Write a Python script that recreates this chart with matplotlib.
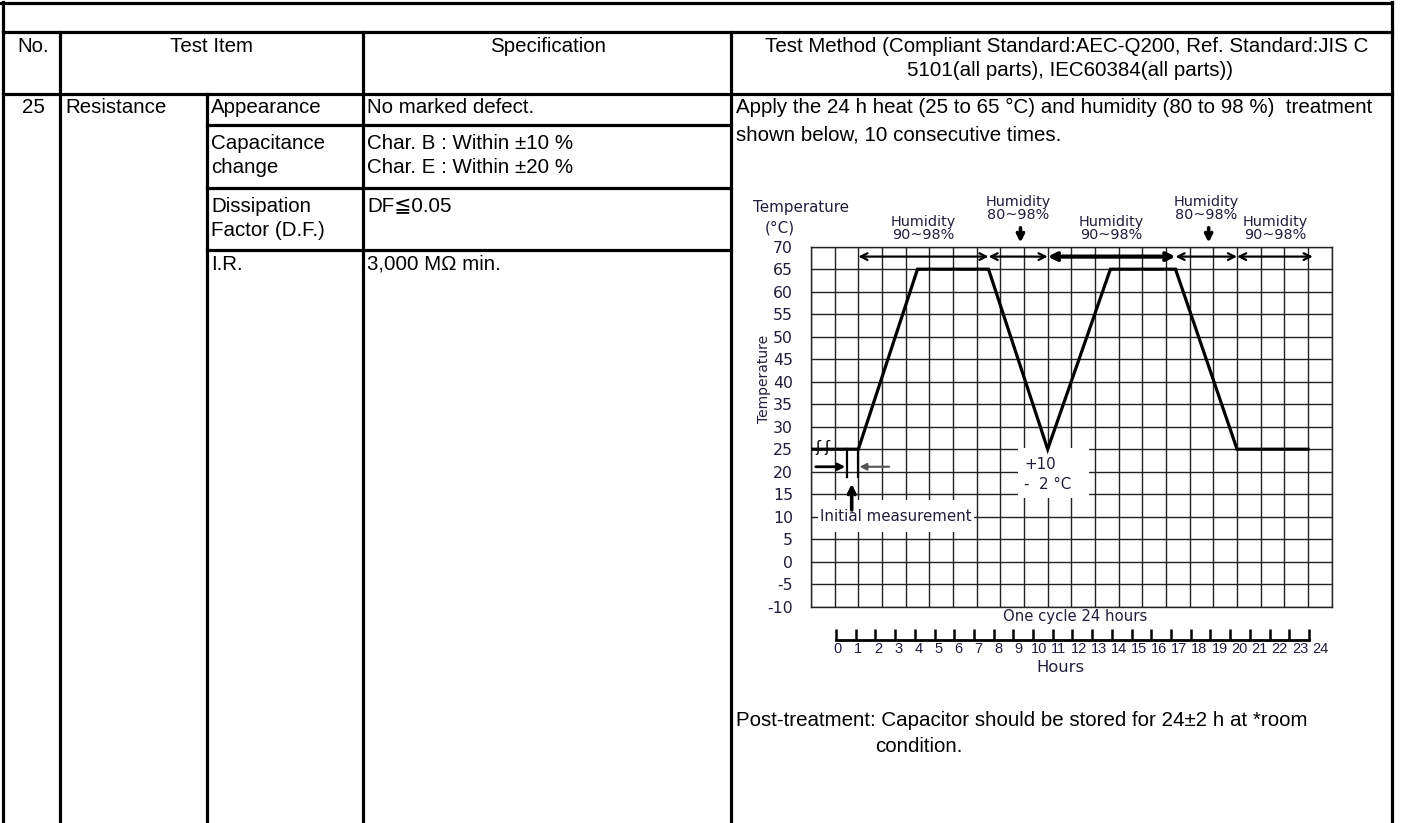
import matplotlib.pyplot as plt
from matplotlib.patches import Rectangle

# table text
header_cols = ["No.", "Test Item", "Specification"]
header_method = ["Test Method (Compliant Standard:AEC-Q200, Ref. Standard:JIS C",
                 "5101(all parts), IEC60384(all parts))"]
test_no = "25"
test_name = "Resistance"
sub_items = [["Appearance"], ["Capacitance", "change"], ["Dissipation", "Factor (D.F.)"], ["I.R."]]
specs = [["No marked defect."], ["Char. B : Within ±10 %", "Char. E : Within ±20 %"], ["DF≦0.05"], ["3,000 MΩ min."]]
method_top = ["Apply the 24 h heat (25 to 65 °C) and humidity (80 to 98 %)  treatment",
              "shown below, 10 consecutive times."]
method_post = ["Post-treatment: Capacitor should be stored for 24±2 h at *room", "condition."]

# chart values: x in grid columns, temperature in °C
profile_x = [0, 2, 4.5, 7.5, 10, 12.65, 15.4, 18, 21]
profile_t = [25, 25, 65, 65, 25, 65, 65, 25, 25]
humid_edges = [2, 7.5, 10, 15.4, 18, 21.2]
humid_labels = ["Humidity\n90~98%", "Humidity\n80~98%", "Humidity\n90~98%",
                "Humidity\n80~98%", "Humidity\n90~98%"]
temp_ticks = list(range(-10, 71, 5))
hour_ticks = list(range(0, 25))

W, H = 1403, 823
navy = "#1e1e3c"
plt.rcParams["font.family"] = ["Liberation Sans", "DejaVu Sans"]

fig = plt.figure(figsize=(W / 100, H / 100), dpi=100)
tab = fig.add_axes([0, 0, 1, 1])
tab.set_xlim(0, W)
tab.set_ylim(H, 0)
tab.axis("off")

lw = 2.3
def hline(y, x0, x1):
    tab.plot([x0, x1], [y, y], color="black", lw=lw, solid_capstyle="projecting")

def vline(x, y0, y1):
    tab.plot([x, x], [y0, y1], color="black", lw=lw, solid_capstyle="projecting")

# table grid
hline(2.5, 0, 1392)
vline(3, 2, H)
vline(1392, 2, H)
hline(32, 3, 1392)
hline(94, 3, 1392)
for x in [60, 363, 731]:
    vline(x, 32, H)
vline(207, 94, H)
for y in [125, 188, 250]:
    hline(y, 207, 731)

fs = 14.8
tab.text(33, 46, header_cols[0], ha="center", va="center", fontsize=fs)
tab.text(212, 46, header_cols[1], ha="center", va="center", fontsize=fs)
tab.text(548, 46, header_cols[2], ha="center", va="center", fontsize=fs)
tab.text(1067, 46, header_method[0], ha="center", va="center", fontsize=fs)
tab.text(1070, 70, header_method[1], ha="center", va="center", fontsize=fs)

tab.text(33, 107, test_no, ha="center", va="center", fontsize=fs)
tab.text(65, 107, test_name, ha="left", va="center", fontsize=fs)
row_y = [107, 143, 206, 264]
for y0, item, spec in zip(row_y, sub_items, specs):
    for i, line in enumerate(item):
        tab.text(211, y0 + 24 * i, line, ha="left", va="center", fontsize=fs)
    for i, line in enumerate(spec):
        tab.text(367, y0 + 24 * i, line, ha="left", va="center", fontsize=fs)

tab.text(736, 107, method_top[0], ha="left", va="center", fontsize=fs)
tab.text(736, 135, method_top[1], ha="left", va="center", fontsize=fs)
tab.text(736, 721, method_post[0], ha="left", va="center", fontsize=fs)
tab.text(875, 746, method_post[1], ha="left", va="center", fontsize=fs)

# temperature chart
ax = fig.add_axes([811 / W, 1 - 606.7 / H, 520.7 / W, 360 / H])
ax.set_xlim(0, 22)
ax.set_ylim(-10, 70)
ax.set_xticks(range(23))
ax.set_yticks(temp_ticks)
ax.set_axisbelow(True)
ax.grid(True, color="#222222", lw=1.0)
for s in ax.spines.values():
    s.set_color("#222222")
    s.set_linewidth(1.0)
ax.tick_params(length=0, labelbottom=False, pad=13)
ax.set_yticklabels([str(t) for t in temp_ticks], fontsize=11.3, color=navy, fontfamily="DejaVu Sans")

# white label boxes
ax.add_patch(Rectangle((0.3, 6.6), 6.6, 7.1, facecolor="white", edgecolor="none", zorder=1))
ax.add_patch(Rectangle((8.73, 14.2), 3.0, 11.15, facecolor="white", edgecolor="none", zorder=1))

ax.plot(profile_x, profile_t, color="black", lw=2.3, zorder=3, solid_joinstyle="miter")

# humidity spans
for i, (a, b, lab) in enumerate(zip(humid_edges[:-1], humid_edges[1:], humid_labels)):
    thick = i == 2
    ax.annotate("", xy=(b, 67.8), xytext=(a, 67.8),
                arrowprops=dict(arrowstyle="<->", lw=3.0 if thick else 1.6, color="black",
                                shrinkA=0, shrinkB=0, mutation_scale=12),
                annotation_clip=False, zorder=4)
    high = "80~98" in lab
    ax.text((a + b) / 2, 78.5 if high else 74.0, lab, ha="center", va="center",
            fontsize=10.4, color=navy, linespacing=0.95, fontfamily="DejaVu Sans", clip_on=False)
    if high:
        ax.annotate("", xy=((a + b) / 2 + 0.1, 70.9), xytext=((a + b) / 2 + 0.1, 74.2),
                    arrowprops=dict(arrowstyle="->", lw=2.6, color="black",
                                    shrinkA=0, shrinkB=0, mutation_scale=11),
                    annotation_clip=False)

# initial measurement marks
ax.text(0.5, 25.3, "ʃ ʃ", ha="center", va="center", fontsize=11, color="black", zorder=4,
        fontfamily="DejaVu Sans")
ax.plot([1.5, 1.5], [25, 18.9], color="black", lw=1.6, zorder=3)
ax.plot([2, 2], [25, 18.9], color="black", lw=1.6, zorder=3)
ax.annotate("", xy=(1.45, 21.1), xytext=(0.2, 21.1),
            arrowprops=dict(arrowstyle="-|>", lw=2.0, color="black", shrinkA=0, shrinkB=0,
                            mutation_scale=10), zorder=4)
ax.annotate("", xy=(2.05, 21.1), xytext=(3.3, 21.1),
            arrowprops=dict(arrowstyle="-|>", lw=1.5, color="#555555", shrinkA=0, shrinkB=0,
                            mutation_scale=10), zorder=4)
ax.annotate("", xy=(1.72, 17.3), xytext=(1.72, 11.5),
            arrowprops=dict(arrowstyle="->", lw=2.6, color="black", shrinkA=0, shrinkB=0,
                            mutation_scale=12), zorder=4)
ax.text(0.4, 10.0, "Initial measurement", ha="left", va="center", fontsize=10.8,
        color=navy, fontfamily="DejaVu Sans", zorder=4)
ax.text(9.0, 21.7, "+10", ha="left", va="center", fontsize=10.8, color=navy,
        fontfamily="DejaVu Sans", zorder=4)
ax.text(9.0, 17.2, "-  2 °C", ha="left", va="center", fontsize=10.8, color=navy,
        fontfamily="DejaVu Sans", zorder=4)

# labels around the chart
tab.text(801, 207, "Temperature", ha="center", va="center", fontsize=10.9, color=navy,
         fontfamily="DejaVu Sans")
tab.text(780, 228, "(°C)", ha="center", va="center", fontsize=10.9, color=navy,
         fontfamily="DejaVu Sans")
tab.text(764, 379, "Temperature", ha="center", va="center", rotation=90, fontsize=10,
         color=navy, fontfamily="DejaVu Sans")
tab.text(1075, 617, "One cycle 24 hours", ha="center", va="center", fontsize=10.7,
         color=navy, fontfamily="DejaVu Sans")
tab.text(1060, 668, "Hours", ha="center", va="center", fontsize=11.8, color=navy,
         fontfamily="DejaVu Sans")

# hour ruler
axr = fig.add_axes([836 / W, 1 - 640 / H, 473 / W, 0.0001])
axr.set_xlim(0, 24)
for side in ["top", "left", "right"]:
    axr.spines[side].set_visible(False)
axr.spines["bottom"].set_linewidth(2.0)
axr.set_yticks([])
axr.set_xticks(hour_ticks)
axr.set_xticklabels([])
axr.tick_params(axis="x", direction="in", length=8, width=1.8)
for h in hour_ticks:
    axr.annotate(str(h), xy=(h, 0), xycoords=("data", "axes fraction"),
                 xytext=(2 + 0.375 * h, -2), textcoords="offset pixels",
                 ha="center", va="top", fontsize=10.5, color=navy,
                 family=["Liberation Sans Narrow", "Liberation Sans"])

fig.savefig("out.png", dpi=100)
